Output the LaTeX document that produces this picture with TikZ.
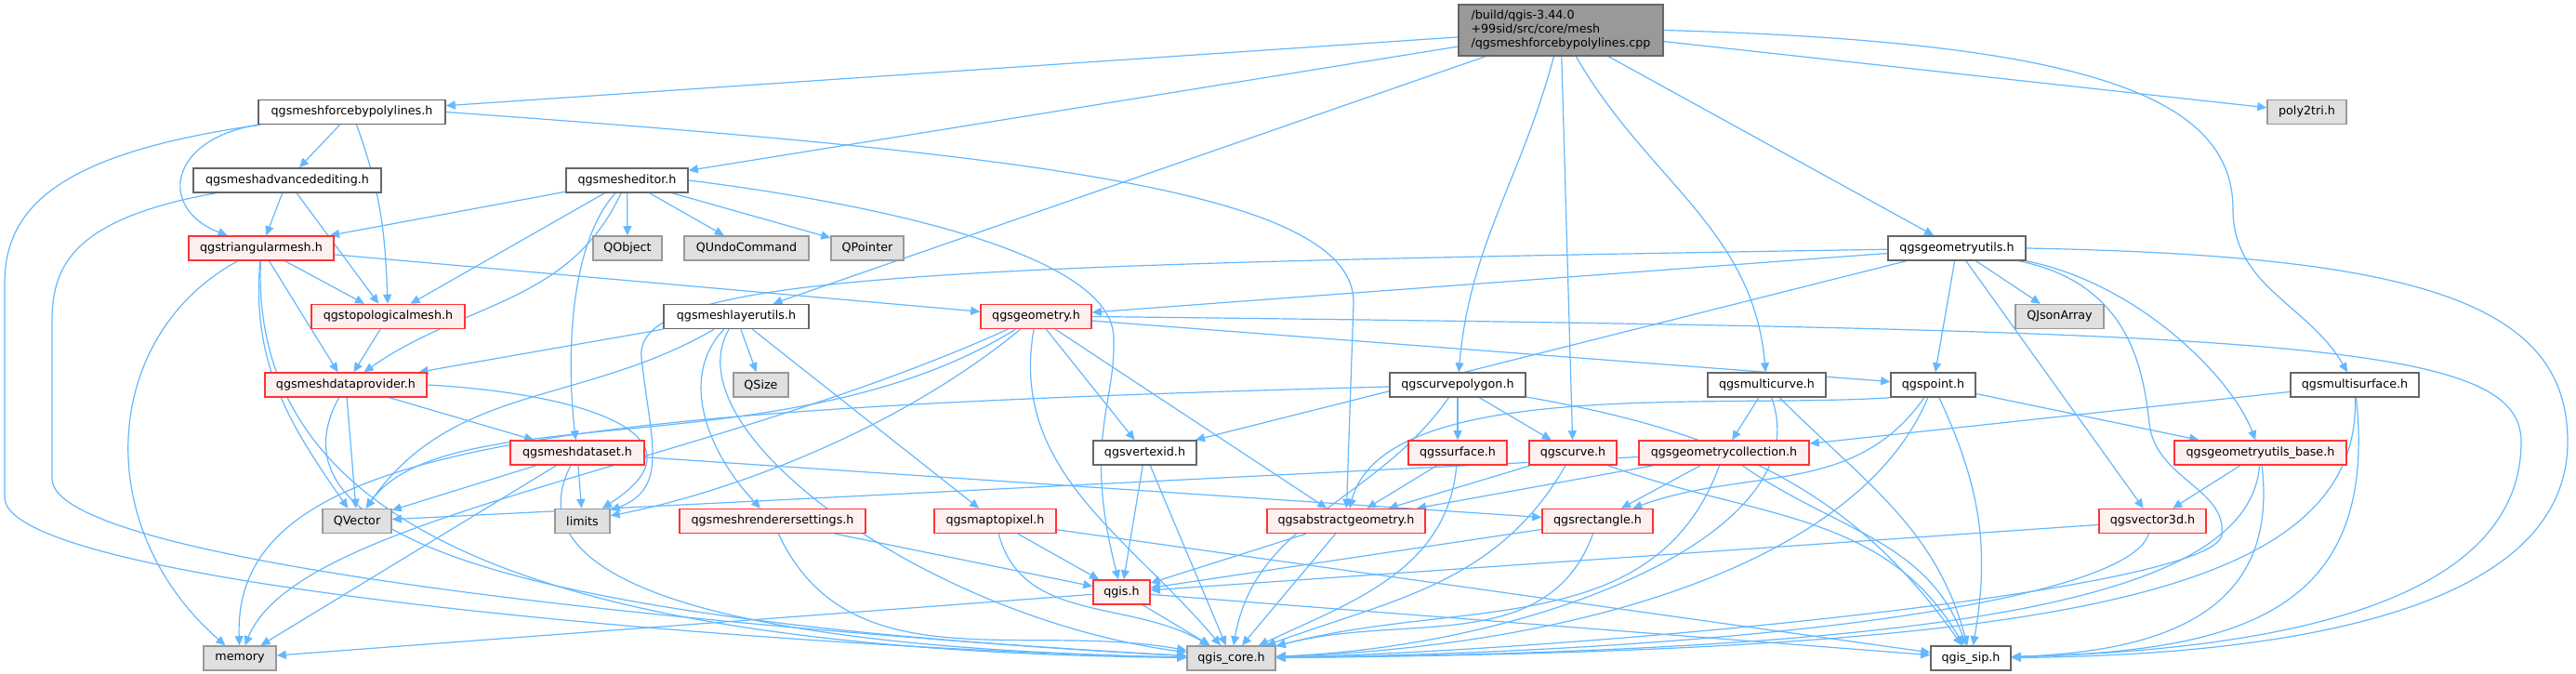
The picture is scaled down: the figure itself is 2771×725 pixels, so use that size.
\documentclass[tikz,border=0pt]{standalone}
\usepackage{fontspec}
\setmainfont{DejaVu Sans}
\usepackage{tikz}
\usetikzlibrary{arrows.meta}
\usetikzlibrary{backgrounds}

\definecolor{edgeblue}{HTML}{63B8FF}
\definecolor{redline}{HTML}{FF3333}
\definecolor{redfill}{HTML}{FFF0F0}
\definecolor{sysfill}{HTML}{E0E0E0}
\definecolor{sysline}{HTML}{999999}
\definecolor{darkline}{HTML}{666666}
\definecolor{rootfill}{HTML}{999999}

\begin{document}
\begin{tikzpicture}[x=1pt, y=1pt,
    hfile/.style={draw=darkline, fill=white, line width=1.5pt, minimum height=26pt, inner sep=0pt, font=\fontsize{12.7}{15}\selectfont},
    hred/.style={hfile, draw=redline, fill=redfill},
    hsys/.style={hfile, draw=sysline, fill=sysfill},
    hroot/.style={hfile, fill=rootfill, align=left, minimum height=55pt},
    dep/.style={draw=edgeblue, line width=1.2pt, -{Triangle[length=10pt, width=9pt]}}]
    \useasboundingbox (0, 0) rectangle (2771, 725);

    % file
    \node[hroot, minimum width=220] (root) at (1679, 692.5) {/build/qgis-3.44.0\\+99sid/src/core/mesh\\/qgsmeshforcebypolylines.cpp};

    % first headers
    \node[hfile, minimum width=201] (fbph) at (378.5, 604.5) {qgsmeshforcebypolylines.h};
    \node[hsys, minimum width=85] (poly2tri) at (2481.5, 604.5) {poly2tri.h};
    \node[hfile, minimum width=202] (advedit) at (309, 531) {qgsmeshadvancedediting.h};
    \node[hfile, minimum width=131] (editor) at (674.5, 531) {qgsmesheditor.h};
    \node[hred, minimum width=156] (trimesh) at (281, 458) {qgstriangularmesh.h};
    \node[hsys, minimum width=74] (qobject) at (675, 458) {QObject};
    \node[hsys, minimum width=134] (qundo) at (803, 458) {QUndoCommand};
    \node[hsys, minimum width=78] (qpointer) at (933, 458) {QPointer};
    \node[hfile, minimum width=148] (geomutils) at (2105, 458) {qgsgeometryutils.h};
    \node[hred, minimum width=165] (topomesh) at (417.5, 384.5) {qgstopologicalmesh.h};
    \node[hfile, minimum width=156] (layerutils) at (792, 384.5) {qgsmeshlayerutils.h};
    \node[hred, minimum width=119] (geometry) at (1114.5, 384.5) {qgsgeometry.h};
    \node[hsys, minimum width=95] (qjsonarray) at (2215.5, 384.5) {QJsonArray};

    % middle headers
    \node[hred, minimum width=174] (dataprov) at (372, 311) {qgsmeshdataprovider.h};
    \node[hsys, minimum width=59] (qsize) at (818.5, 311) {QSize};
    \node[hfile, minimum width=146] (curvepoly) at (1568, 311) {qgscurvepolygon.h};
    \node[hfile, minimum width=127] (multicurve) at (1900.5, 311) {qgsmulticurve.h};
    \node[hfile, minimum width=91] (point) at (2079.5, 311) {qgspoint.h};
    \node[hfile, minimum width=138] (multisurface) at (2533, 311) {qgsmultisurface.h};
    \node[hred, minimum width=144] (dataset) at (621, 238) {qgsmeshdataset.h};
    \node[hfile, minimum width=111] (vertexid) at (1231.5, 238) {qgsvertexid.h};
    \node[hred, minimum width=106] (surface) at (1568, 238) {qgssurface.h};
    \node[hred, minimum width=94] (curve) at (1692, 238) {qgscurve.h};
    \node[hred, minimum width=183] (geomcoll) at (1854.5, 238) {qgsgeometrycollection.h};
    \node[hred, minimum width=185] (geomutilsbase) at (2431.5, 238) {qgsgeometryutils\_base.h};

    % lower headers
    \node[hsys, minimum width=74] (qvector) at (384, 164.5) {QVector};
    \node[hsys, minimum width=59] (limits) at (626.5, 164.5) {limits};
    \node[hred, minimum width=200] (rendset) at (831, 164.5) {qgsmeshrenderersettings.h};
    \node[hred, minimum width=131] (maptopixel) at (1070.5, 164.5) {qgsmaptopixel.h};
    \node[hred, minimum width=170] (abstractgeom) at (1448, 164.5) {qgsabstractgeometry.h};
    \node[hred, minimum width=119] (rectangle) at (1718.5, 164.5) {qgsrectangle.h};
    \node[hred, minimum width=115] (vector3d) at (2315.5, 164.5) {qgsvector3d.h};
    \node[hred, minimum width=61] (qgish) at (1206.5, 88) {qgis.h};
    \node[hsys, minimum width=78] (memory) at (258, 17) {memory};
    \node[hsys, minimum width=95] (qgiscore) at (1324.5, 17) {qgis\_core.h};
    \node[hfile, minimum width=86] (qgissip) at (2120, 17) {qgis\_sip.h};

    \begin{scope}[on background layer]
    \fill[white] (0, 0) rectangle (2771, 725);

    % from the file
    \draw[dep] (root) -- (fbph);
    \draw[dep] (root) -- (editor);
    \draw[dep] (root) -- (layerutils);
    \draw[dep] (root) to[out=-105, in=85] (curvepoly);
    \draw[dep] (root) -- (curve);
    \draw[dep] (root) to[out=-60, in=95] (multicurve);
    \draw[dep] (root) -- (geomutils);
    \draw[dep] (root) -- (poly2tri);
    \draw[dep] (root.east) .. controls (2250, 680) and (2402, 620) .. (2402, 500) to[out=-90, in=120] (multisurface);

    % qgsmeshforcebypolylines.h
    \draw[dep] (fbph) -- (advedit);
    \draw[dep] (fbph.south west) .. controls (180, 575) and (170, 500) .. (trimesh);
    \draw[dep] (fbph) to[out=-70, in=92] (topomesh);
    \draw[dep] (fbph) .. controls (60, 560) and (5, 500) .. (5, 420) -- (5, 190) .. controls (5, 90) and (900, 25) .. (qgiscore);
    \draw[dep] (fbph.east) .. controls (1100, 560) and (1456, 520) .. (1456, 400) -- (abstractgeom);

    % qgsmeshadvancedediting.h
    \draw[dep] (advedit) -- (trimesh);
    \draw[dep] (advedit) -- (topomesh);
    \draw[dep] (advedit) .. controls (80, 490) and (56, 440) .. (56, 380) -- (56, 210) .. controls (56, 110) and (900, 40) .. (qgiscore);

    % qgsmesheditor.h
    \draw[dep] (editor) -- (trimesh);
    \draw[dep] (editor) -- (topomesh);
    \draw[dep] (editor) to[out=-115, in=35] (dataprov);
    \draw[dep] (editor) .. controls (610, 460) and (610, 330) .. (dataset);
    \draw[dep] (editor) -- (qobject);
    \draw[dep] (editor) -- (qundo);
    \draw[dep] (editor) -- (qpointer);
    \draw[dep] (editor.east) .. controls (950, 505) and (1200, 450) .. (1198, 360) .. controls (1200, 290) and (1165, 250) .. (qgish);

    % qgstriangularmesh.h
    \draw[dep] (trimesh) -- (topomesh);
    \draw[dep] (trimesh) -- (dataprov);
    \draw[dep] (trimesh) to[out=-95, in=125] (qvector);
    \draw[dep] (trimesh) .. controls (110, 365) and (95, 160) .. (memory);
    \draw[dep] (trimesh) .. controls (268, 150) and (600, 25) .. (qgiscore);
    \draw[dep] (trimesh) -- (geometry);
    \draw[dep] (topomesh) -- (dataprov);

    % qgsmeshlayerutils.h
    \draw[dep] (layerutils) -- (dataprov);
    \draw[dep] (layerutils) to[out=-150, in=55] (qvector);
    \draw[dep] (layerutils) -- (qsize);
    \draw[dep] (layerutils) .. controls (730, 320) and (760, 240) .. (rendset);
    \draw[dep] (layerutils) -- (maptopixel);
    \draw[dep] (layerutils) .. controls (720, 260) and (1000, 60) .. (qgiscore);

    % qgsgeometry.h
    \draw[dep] (geometry) -- (vertexid);
    \draw[dep] (geometry) -- (abstractgeom);
    \draw[dep] (geometry) .. controls (850, 220) and (480, 300) .. (qvector);
    \draw[dep] (geometry) .. controls (750, 220) and (320, 170) .. (memory);
    \draw[dep] (geometry) .. controls (950, 250) and (760, 190) .. (limits);
    \draw[dep] (geometry) to[out=-100, in=130] (qgiscore);
    \draw[dep] (geometry) -- (point);
    \draw[dep] (geometry.east) .. controls (2450, 370) and (2712, 360) .. (2712, 250) .. controls (2712, 60) and (2400, 25) .. (qgissip);

    % qgsgeometryutils.h
    \draw[dep] (geomutils) .. controls (1000, 440) and (680, 430) .. (690, 340) .. controls (700, 250) and (720, 200) .. (limits);
    \draw[dep] (geomutils) -- (geometry);
    \draw[dep] (geomutils) -- (vertexid);
    \draw[dep] (geomutils) -- (point);
    \draw[dep] (geomutils) -- (vector3d);
    \draw[dep] (geomutils.south east) .. controls (2300, 420) and (2400, 320) .. (geomutilsbase);
    \draw[dep] (geomutils) -- (qjsonarray);
    \draw[dep] (geomutils) .. controls (2290, 420) and (2305, 330) .. (2312, 270) .. controls (2318, 210) and (2395, 200) .. (2390, 150) .. controls (2385, 90) and (1700, 25) .. (qgiscore);
    \draw[dep] (geomutils.east) .. controls (2600, 450) and (2762, 400) .. (2762, 250) .. controls (2762, 50) and (2400, 20) .. (qgissip);

    % qgsmeshdataprovider.h, qgsmeshdataset.h
    \draw[dep] (dataprov) -- (dataset);
    \draw[dep] (dataprov) -- (qvector);
    \draw[dep] (dataprov.east) .. controls (650, 300) and (760, 250) .. (limits);
    \draw[dep] (dataprov) .. controls (290, 160) and (500, 60) .. (qgiscore);
    \draw[dep] (dataset) -- (qvector);
    \draw[dep] (dataset) -- (limits);
    \draw[dep] (dataset) -- (memory);
    \draw[dep] (dataset) .. controls (560, 120) and (700, 30) .. (qgiscore);
    \draw[dep] (dataset) -- (rectangle);

    % lower row
    \draw[dep] (rendset) -- (qgish);
    \draw[dep] (rendset) to[out=-65, in=170] (qgiscore);
    \draw[dep] (maptopixel) -- (qgish);
    \draw[dep] (maptopixel) to[out=-75, in=150] (qgiscore);
    \draw[dep] (maptopixel) -- (qgissip);
    \draw[dep] (vertexid) -- (qgish);
    \draw[dep] (vertexid) -- (qgiscore);
    \draw[dep] (abstractgeom) -- (qgish);
    \draw[dep] (abstractgeom) -- (qgiscore);
    \draw[dep] (qgish) -- (memory);
    \draw[dep] (qgish) -- (qgiscore);
    \draw[dep] (qgish) -- (qgissip);
    \draw[dep] (rectangle) -- (qgish);
    \draw[dep] (rectangle) to[out=-110, in=15] (qgiscore);

    % curves and surfaces
    \draw[dep] (surface) -- (abstractgeom);
    \draw[dep] (surface) to[out=-95, in=25] (qgiscore);
    \draw[dep] (curve) -- (abstractgeom);
    \draw[dep] (curve) to[out=-120, in=20] (qgiscore);
    \draw[dep] (curve) to[out=-20, in=120] (qgissip);
    \draw[dep] (curvepoly) -- (surface);
    \draw[dep] (curvepoly) -- (curve);
    \draw[dep] (curvepoly) to[out=-125, in=80] (qgiscore);
    \draw[dep] (curvepoly) .. controls (600, 285) and (250, 250) .. (memory);
    \draw[dep] (curvepoly) to[out=-10, in=125] (qgissip);

    % collections
    \draw[dep] (geomcoll) -- (qvector);
    \draw[dep] (geomcoll) -- (abstractgeom);
    \draw[dep] (geomcoll) -- (rectangle);
    \draw[dep] (geomcoll) to[out=-110, in=15] (qgiscore);
    \draw[dep] (geomcoll) to[out=-35, in=110] (qgissip);
    \draw[dep] (multicurve) -- (geomcoll);
    \draw[dep] (multicurve) .. controls (1960, 150) and (1650, 30) .. (qgiscore);
    \draw[dep] (multicurve) to[out=-45, in=105] (qgissip);
    \draw[dep] (multisurface) -- (geomcoll);
    \draw[dep] (multisurface) .. controls (2540, 80) and (2200, 25) .. (qgiscore);
    \draw[dep] (multisurface) .. controls (2560, 60) and (2400, 25) .. (qgissip);

    % qgspoint.h and utils
    \draw[dep] (point.south west) .. controls (1850, 285) and (1490, 320) .. (abstractgeom);
    \draw[dep] (point) to[out=-125, in=20] (rectangle);
    \draw[dep] (point) .. controls (2000, 120) and (1700, 30) .. (qgiscore);
    \draw[dep] (point) to[out=-65, in=80] (qgissip);
    \draw[dep] (point) -- (geomutilsbase);
    \draw[dep] (geomutilsbase) -- (vector3d);
    \draw[dep] (geomutilsbase) .. controls (2420, 80) and (2100, 25) .. (qgiscore);
    \draw[dep] (geomutilsbase) .. controls (2450, 80) and (2350, 25) .. (qgissip);
    \draw[dep] (vector3d) -- (qgish);
    \draw[dep] (vector3d) .. controls (2290, 80) and (1900, 25) .. (qgiscore);
    \end{scope}
\end{tikzpicture}
\end{document}
